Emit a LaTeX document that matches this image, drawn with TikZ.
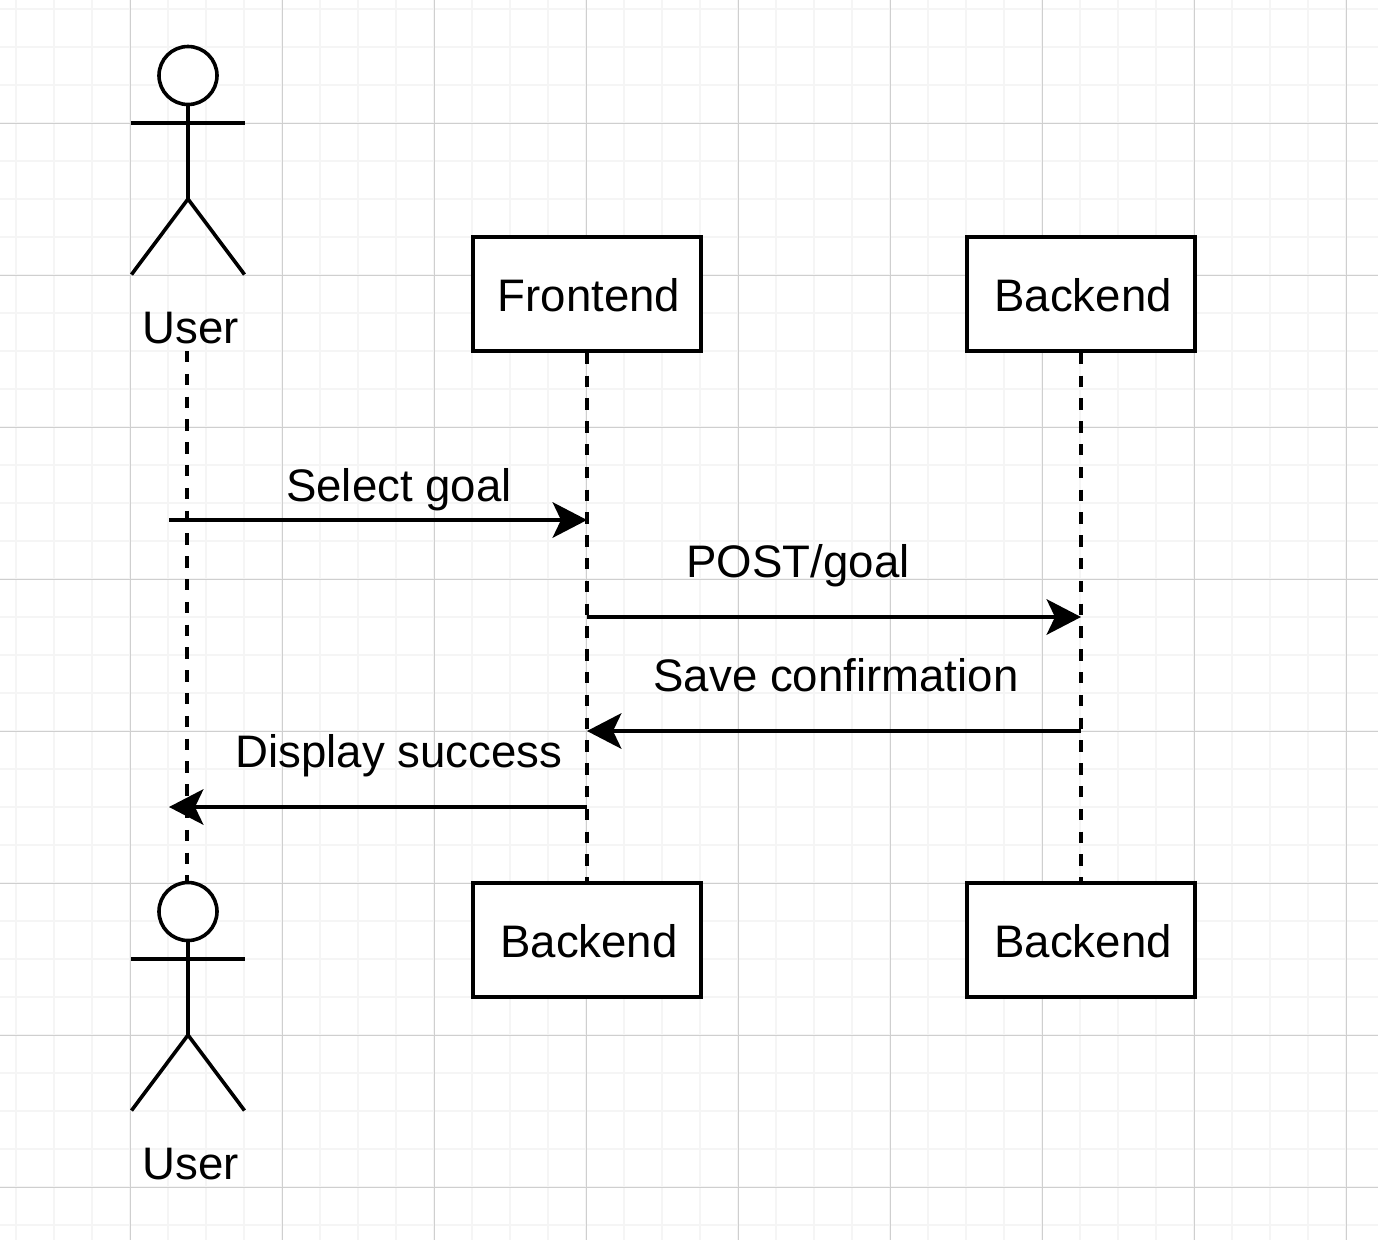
\documentclass[tikz,border=0pt]{standalone}
\usepackage{fontspec}
\setmainfont{Liberation Sans}
\usetikzlibrary{arrows.meta}
\tikzset{
  px/.style={x=0.75pt,y=-0.75pt},
  minorgrid/.style={draw=black!4,line width=1.1pt},
  majorgrid/.style={draw=black!19,line width=0.7pt},
  stroke/.style={draw=black,line width=2.7pt},
  actorhead/.style={stroke,circle,fill=white,minimum size=43.5pt,inner sep=0pt},
  box/.style={stroke,fill=white,minimum width=171pt,minimum height=85.5pt,inner sep=0pt},
  label/.style={inner sep=0pt,font=\fontsize{34.2}{40}\selectfont,text=black},
  lifeline/.style={stroke,dash pattern=on 8.55pt off 8.55pt},
  message/.style={stroke,-{Stealth[length=26pt,width=27pt,inset=6.5pt,line width=0pt]}}
}
\begin{document}
\begin{tikzpicture}[px]
\useasboundingbox (0,0) rectangle (1378,1240);
\fill[white] (0,0) rectangle (1378,1240);
% grid
\foreach \i in {0,...,36} {
  \draw[minorgrid] ({16+38*\i},0) -- ({16+38*\i},1240);
}
\foreach \i in {0,...,32} {
  \draw[minorgrid] (0,{9+38*\i}) -- (1378,{9+38*\i});
}
\foreach \i in {0,...,8} {
  \draw[majorgrid] ({130.5+152*\i},0) -- ({130.5+152*\i},1240);
}
\foreach \i in {0,...,7} {
  \draw[majorgrid] (0,{123.5+152*\i}) -- (1378,{123.5+152*\i});
}
% participant boxes
\node[box] (front) at (587,294) {};
\node[label] at (589,295) (fronttext) {Frontend};
\node[box] (back) at (1081,294) {};
\node[label] at (1083,295) (backtext) {Backend};
\node[box] (front2) at (587,940) {};
\node[label] at (589,941) (front2text) {Backend};
\node[box] (back2) at (1081,940) {};
\node[label] at (1083,941) (back2text) {Backend};
% actors
\node[actorhead] (head1) at (188,75.5) {};
\coordinate (arm1l) at (131,123);
\coordinate (arm1r) at (245,123);
\coordinate (hip1) at (188,199);
\coordinate (foot1l) at (131.5,274.5);
\coordinate (foot1r) at (244.5,274.5);
\draw[stroke] (head1.south) -- (hip1);
\draw[stroke] (arm1l) -- (arm1r);
\draw[stroke] (foot1l) -- (hip1) -- (foot1r);
\node[label] (user1) at (191,328.5) {User};
\node[actorhead] (head2) at (188,911.5) {};
\coordinate (arm2l) at (131,959);
\coordinate (arm2r) at (245,959);
\coordinate (hip2) at (188,1035);
\coordinate (foot2l) at (131.5,1110.5);
\coordinate (foot2r) at (244.5,1110.5);
\draw[stroke] (head2.south) -- (hip2);
\draw[stroke] (arm2l) -- (arm2r);
\draw[stroke] (foot2l) -- (hip2) -- (foot2r);
\node[label] (user2) at (191,1164.5) {User};
% lifelines
\coordinate (utop) at (187,351);
\draw[lifeline] (utop) -- (utop |- head2.north);
\draw[lifeline] (front.south) -- (front2.north);
\draw[lifeline] (back.south) -- (back2.north);
% messages
\coordinate (m1) at (169,520);
\coordinate (m2) at (587,617);
\coordinate (m3) at (1081,731);
\coordinate (m4) at (587,807);
\coordinate (m4end) at (169,807);
\draw[message] (m1) -- (front.south |- m1);
\draw[message] (m2) -- (back.south |- m2);
\draw[message] (m3) -- (front.south |- m3);
\draw[message] (m4) -- (m4end);
\node[label] (l1) at (399,490) {Select goal};
\node[label] (l2) at (798,566) {POST/goal};
\node[label] (l3) at (836,675) {Save confirmation};
\node[label] (l4) at (399,756) {Display success};
\end{tikzpicture}
\end{document}
